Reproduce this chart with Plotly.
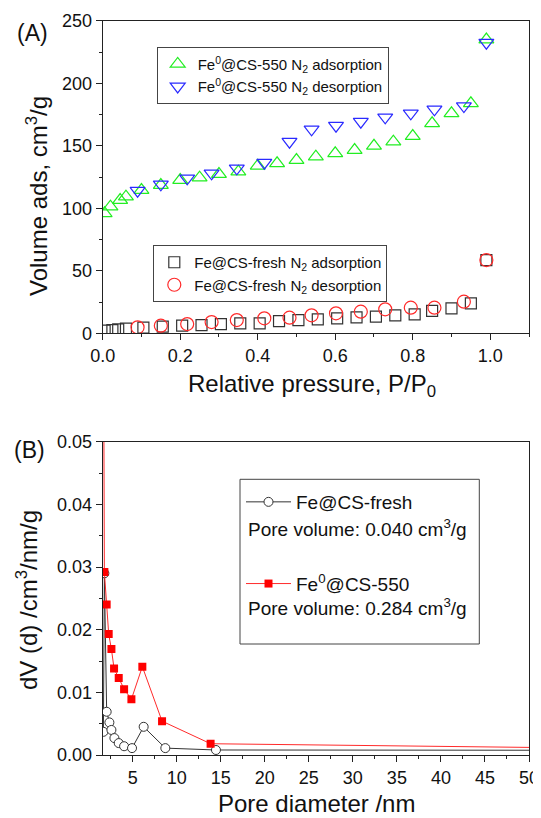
import plotly.graph_objects as go

# ---------------- Data: panel A (N2 isotherms) ----------------
p_ads = [0.005, 0.02, 0.045, 0.06, 0.10, 0.15, 0.20, 0.25, 0.30, 0.35, 0.40, 0.45,
         0.50, 0.55, 0.60, 0.65, 0.70, 0.75, 0.80, 0.85, 0.90, 0.95, 0.99]
cs550_ads = [96, 101.3, 106.6, 109.3, 114.6, 118.6, 122.6, 124.5, 127.4, 129.3, 134, 136,
             138.6, 141.3, 144, 146.6, 150, 153.3, 157.8, 168, 176, 184, 235]
p_des = [0.09, 0.15, 0.218, 0.281, 0.346, 0.417, 0.482, 0.539, 0.602, 0.666, 0.729,
         0.795, 0.856, 0.932, 0.99]
cs550_des = [114.1, 119.2, 124, 128, 132, 136.5, 153.3, 163.2, 166.1, 169.3, 172.8,
             176, 179.2, 181.8, 232.5]

p_ads_fresh = [0.005, 0.025, 0.04, 0.06, 0.105, 0.155, 0.205, 0.255, 0.305, 0.355, 0.405,
               0.455, 0.505, 0.555, 0.605, 0.655, 0.705, 0.755, 0.805, 0.85, 0.90, 0.95, 0.99]
fresh_ads = [2.1, 2.6, 3.2, 3.7, 4.5, 5.3, 6.1, 6.6, 7.4, 8.0, 8.0, 9.8, 10.6, 11.2, 12.0,
             12.8, 13.3, 14.4, 15.2, 17.9, 20.0, 24.0, 58.6]
fresh_des = [4.8, 6.1, 7.4, 9.0, 10.6, 12.0, 12.5, 14.4, 16.0, 17.3, 19.2, 20.5, 20.5,
             25.3, 58.6]

# ---------------- Data: panel B (pore size distribution) ----------------
d_fresh = [1.68, 1.79, 2.05, 2.36, 2.59, 2.93, 3.42, 4.03, 4.93, 6.25, 8.71, 14.46, 100]
dv_fresh = [0.0037, 0.0290, 0.0069, 0.0052, 0.0040, 0.0027, 0.0019, 0.0014, 0.0011,
            0.0045, 0.0011, 0.0008, 0.0007]
d_550 = [1.68, 1.79, 2.05, 2.28, 2.59, 2.89, 3.42, 4.03, 4.86, 6.10, 8.34, 13.85, 100]
dv_550 = [0.0750, 0.0292, 0.0240, 0.0193, 0.0169, 0.0138, 0.0123, 0.0105, 0.0089,
          0.0141, 0.0054, 0.0018, 0.0004]

pore_vol_labels = ["Pore volume: 0.040 cm<sup>3</sup>/g", "Pore volume: 0.284 cm<sup>3</sup>/g"]

# page body has an 8px margin: work in window pixels and convert
OX, OY = 8, 8
W, H = 533, 810
FONT = "Liberation Sans, Arial, sans-serif"

def px_x(v):
    return (v - OX) / W

def px_y(v):
    return 1 - (v - OY) / H

fig = go.Figure()

# Panel A traces
fig.add_trace(go.Scatter(
    x=p_ads, y=cs550_ads, mode="markers", xaxis="x", yaxis="y", legend="legend",
    name="Fe<sup>0</sup>@CS-550 N<sub>2</sub> adsorption",
    marker=dict(symbol="triangle-up-open", size=13, color="#22ee22", line=dict(width=1.2))))
fig.add_trace(go.Scatter(
    x=p_des, y=cs550_des, mode="markers", xaxis="x", yaxis="y", legend="legend",
    name="Fe<sup>0</sup>@CS-550 N<sub>2</sub> desorption",
    marker=dict(symbol="triangle-down-open", size=13, color="#2a2aff", line=dict(width=1.2))))
fig.add_trace(go.Scatter(
    x=p_ads_fresh, y=fresh_ads, mode="markers", xaxis="x", yaxis="y", legend="legend2",
    name="Fe@CS-fresh N<sub>2</sub> adsorption",
    marker=dict(symbol="square-open", size=11, color="#333333", line=dict(width=1.2))))
fig.add_trace(go.Scatter(
    x=p_des, y=fresh_des, mode="markers", xaxis="x", yaxis="y", legend="legend2",
    name="Fe@CS-fresh N<sub>2</sub> desorption",
    marker=dict(symbol="circle-open", size=13, color="#ff2a2a", line=dict(width=1.2))))

# Panel B traces
fig.add_trace(go.Scatter(
    x=d_fresh, y=dv_fresh, mode="lines+markers", xaxis="x2", yaxis="y2", legend="legend3",
    legendgroup="a", name="Fe@CS-fresh",
    line=dict(color="#333333", width=1),
    marker=dict(symbol="circle", size=9, color="white", line=dict(color="#333333", width=1))))
fig.add_trace(go.Scatter(
    x=d_550, y=dv_550, mode="lines+markers", xaxis="x2", yaxis="y2", legend="legend3",
    legendgroup="b", name="Fe<sup>0</sup>@CS-550",
    line=dict(color="#ff2a2a", width=1),
    marker=dict(symbol="square", size=8, color="#ff0000", line=dict(color="#ff0000", width=0))))

axis_common = dict(
    showline=True, linecolor="#222222", linewidth=1.3, mirror=True,
    ticks="outside", ticklen=6, tickwidth=1.2, tickcolor="#222222",
    showgrid=False, zeroline=False, automargin=False,
    tickfont=dict(family=FONT, size=18, color="#111111"),
)

xd = [px_x(102.7), px_x(529)]
fig.update_layout(
    width=W, height=H,
    margin=dict(l=0, r=0, t=0, b=0, autoexpand=False),
    paper_bgcolor="white", plot_bgcolor="white",
    font=dict(family=FONT, color="#111111"),
    showlegend=True,
    xaxis=dict(axis_common, domain=xd, anchor="y", range=[0, 1.1], dtick=0.2, tick0=0,
               tickformat=".1f",
               minor=dict(dtick=0.1, ticks="outside", ticklen=3, tickcolor="#222222")),
    yaxis=dict(axis_common, domain=[px_y(333.3), px_y(20.8)], anchor="x", range=[0, 250],
               dtick=50, minor=dict(dtick=25, ticks="outside", ticklen=3, tickcolor="#222222")),
    xaxis2=dict(axis_common, domain=xd, anchor="y2", range=[1.6, 50], dtick=5, tick0=0,
                minor=dict(dtick=2.5, tick0=0, ticks="outside", ticklen=3, tickcolor="#222222")),
    yaxis2=dict(axis_common, domain=[px_y(755), px_y(441.7)], anchor="x2", range=[0, 0.05],
                dtick=0.01, tickformat=".2f",
                minor=dict(dtick=0.005, ticks="outside", ticklen=3, tickcolor="#222222")),
    legend=dict(x=px_x(156.7), y=px_y(46.7), xanchor="left", yanchor="top",
                bordercolor="#444444", borderwidth=1, bgcolor="white",
                font=dict(family=FONT, size=15), itemwidth=30, tracegroupgap=0),
    legend2=dict(x=px_x(153.3), y=px_y(245), xanchor="left", yanchor="top",
                 bordercolor="#444444", borderwidth=1, bgcolor="white",
                 font=dict(family=FONT, size=15), itemwidth=30, tracegroupgap=0),
    legend3=dict(x=px_x(241), y=px_y(483), xanchor="left", yanchor="top",
                 borderwidth=0, bgcolor="rgba(0,0,0,0)", itemwidth=45,
                 font=dict(family=FONT, size=19), tracegroupgap=54, traceorder="grouped"),
    shapes=[dict(type="rect", xref="paper", yref="paper",
                 x0=px_x(240), x1=px_x(479.3), y0=px_y(644), y1=px_y(479.3),
                 line=dict(color="#444444", width=1), fillcolor="rgba(0,0,0,0)",
                 layer="below")],
)

annotations = [
    dict(text="(A)", x=px_x(32), y=px_y(33), font=dict(size=23)),
    dict(text="(B)", x=px_x(29), y=px_y(450), font=dict(size=23)),
    dict(text="Volume ads, cm<sup>3</sup>/g", x=px_x(37), y=px_y(196), textangle=-90,
         font=dict(size=24)),
    dict(text="dV (d) /cm<sup>3</sup>/nm/g", x=px_x(27), y=px_y(600), textangle=-90,
         font=dict(size=24)),
    dict(text="Relative pressure, P/P<sub>0</sub>", x=px_x(312), y=px_y(385),
         font=dict(size=24)),
    dict(text="Pore diameter /nm", x=px_x(316), y=px_y(803), font=dict(size=24)),
]
for a in annotations:
    a.update(xanchor="center")
for lbl, yy in zip(pore_vol_labels, [528, 607]):
    annotations.append(dict(text=lbl, x=px_x(246), y=px_y(yy), xanchor="left",
                            font=dict(size=19)))
for a in annotations:
    a.update(xref="paper", yref="paper", showarrow=False, yanchor="middle")
    a["font"].update(family=FONT, color="#111111")
fig.update_layout(annotations=annotations)

fig.write_html("out.html")
